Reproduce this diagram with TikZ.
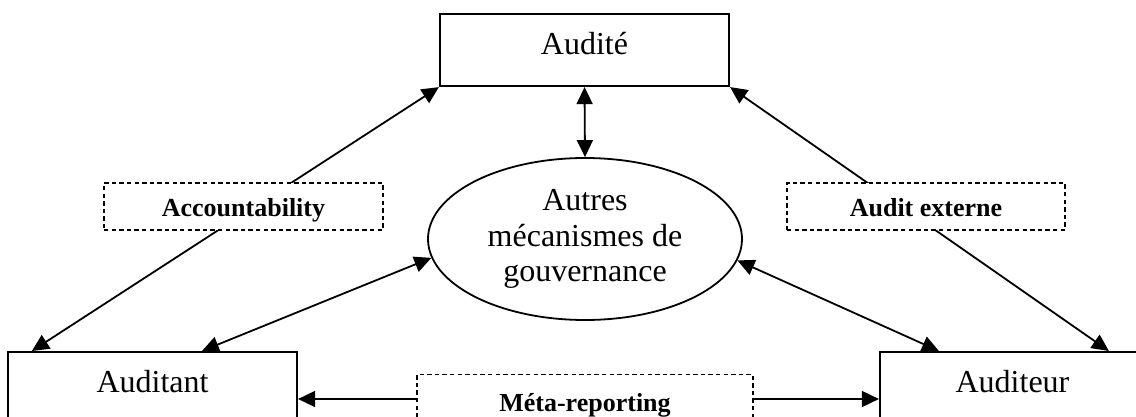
\documentclass[tikz,border=0pt]{standalone}
\usepackage{fontspec}
\setmainfont{Liberation Serif}
\usetikzlibrary{arrows.meta,shapes.geometric}
\begin{document}
\begin{tikzpicture}[x=0.5pt,y=-0.5pt,
  box/.style={draw,line width=1.1pt,rectangle,inner sep=0pt,font=\fontsize{16}{17.75}\selectfont},
  lbl/.style={draw,dash pattern=on 2.2pt off 1.6pt,line width=0.65pt,fill=white,inner sep=0pt,font=\fontsize{13}{15}\selectfont\bfseries},
  tip/.tip={Triangle[length=8.5pt,width=8pt]},
  conn/.style={line width=0.9pt,tip-tip},
  one/.style={line width=0.9pt,-tip}]
\useasboundingbox (0,0) rectangle (1136,417);
\clip (0,0) rectangle (1136,417);
% main boxes
\node[box,minimum width=144.5pt,text height=20.5pt,text depth=15.5pt] (audite) at (584.5,50) {Audité};
\node[box,minimum width=144.5pt,text height=20pt,text depth=30pt,anchor=north] (auditant) at (152.5,351) {Auditant};
\node[box,minimum width=132.5pt,text height=20pt,text depth=30pt,anchor=north] (auditeur) at (1012.5,351) {Auditeur};
\node[draw,ellipse,line width=0.9pt,inner sep=0pt,minimum width=157pt,minimum height=81pt,
      align=center,font=\fontsize{16}{17.75}\selectfont] (gov) at (585,239) {Autres\\mécanismes de\\gouvernance};
% connectors
\draw[conn] ([xshift=12.5pt]auditant.north west) -- (audite.south west);
\draw[conn] ([xshift=115pt]auditeur.north west) -- (audite.south east);
\draw[conn] (audite.south) -- (gov.north);
\draw[conn] ([xshift=97.5pt]auditant.north west) -- (gov.187);
\draw[conn] ([xshift=30pt]auditeur.north west) -- (gov.352);
% labels
\node[lbl,minimum width=139.5pt,text height=16.85pt,text depth=6.65pt] (acc) at (243.5,206.5) {Accountability};
\node[lbl,minimum width=139pt,text height=16.85pt,text depth=6.65pt] (ext) at (926,206.5) {Audit externe};
\node[lbl,minimum width=168pt,text height=18.5pt,text depth=10pt,anchor=north] (meta) at (585,374) {Méta-reporting};
\coordinate (ml) at ([yshift=-12.5pt]meta.north west);
\coordinate (mr) at ([yshift=-12.5pt]meta.north east);
\draw[one] (ml) -- (ml -| auditant.east);
\draw[one] (mr) -- (mr -| auditeur.west);
\end{tikzpicture}
\end{document}
